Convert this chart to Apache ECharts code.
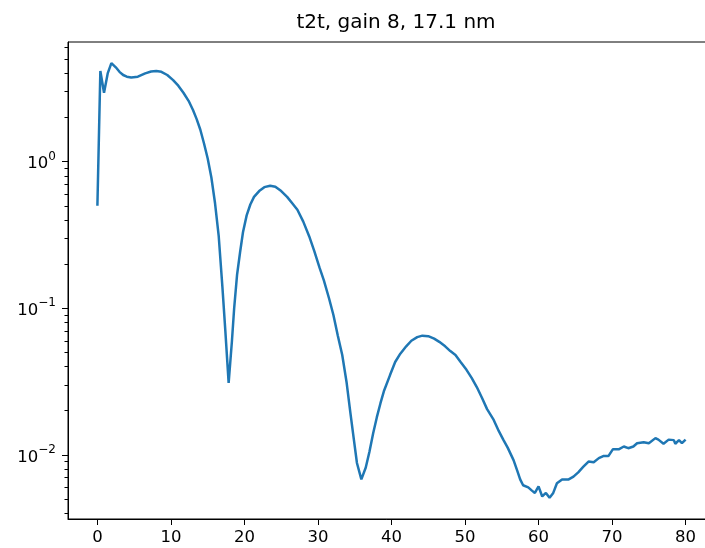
<!DOCTYPE html>
<html>
<head>
<meta charset="utf-8">
<title>t2t, gain 8, 17.1 nm</title>
<script src="https://cdn.jsdelivr.net/npm/echarts@6/dist/echarts.min.js"></script>
<style>
  html, body { margin: 0; padding: 0; background: #fff; }
  #chart { width: 705px; height: 548px; }
</style>
</head>
<body>
<div id="chart"></div>
<script>
// Reflectivity curve: angle (x) and signal (log y)
const angles = [
  0.0, 0.4, 0.9, 1.4, 1.9, 2.5, 3.0, 3.5, 4.0, 4.6,
  5.5, 6.5, 7.3, 8.0, 8.7, 9.5, 10.3, 11.0, 11.7, 12.4,
  13.0, 13.5, 14.0, 14.5, 15.0, 15.5, 16.0, 16.5, 17.0, 17.4,
  17.85, 18.3, 18.6, 19.0, 19.4, 19.8, 20.3, 20.8, 21.3, 22.0,
  22.7, 23.5, 24.2, 25.0, 25.8, 26.5, 27.2, 28.0, 28.8, 29.5,
  30.2, 30.8, 31.5, 32.1, 32.7, 33.3, 33.9, 34.4, 34.9, 35.3,
  35.9, 36.5, 37.0, 37.5, 38.0, 38.5, 39.0, 39.8, 40.5, 41.2,
  42.0, 42.7, 43.5, 44.2, 45.0, 45.8, 46.5, 47.3, 48.0, 48.7,
  49.4, 50.2, 50.9, 51.6, 52.3, 53.0, 53.9, 54.6, 55.2, 55.8,
  56.6, 57.1, 57.5, 57.9, 58.6, 59.1, 59.5, 60.0, 60.5, 61.0,
  61.5, 62.0, 62.5, 63.2, 64.1, 64.75, 65.4, 66.1, 66.8, 67.5,
  68.2, 68.8, 69.5, 70.1, 70.9, 71.6, 72.2, 72.9, 73.4, 74.3,
  75.0, 75.9, 76.3, 77.0, 77.7, 78.4, 78.6, 79.1, 79.5, 80.0
];
const signal = [
  0.50, 4.15, 2.95, 4.0, 4.7, 4.4, 4.1, 3.9, 3.8, 3.75,
  3.8, 4.0, 4.12, 4.15, 4.1, 3.9, 3.6, 3.3, 2.95, 2.6,
  2.25, 1.95, 1.65, 1.33, 1.05, 0.78, 0.52, 0.31, 0.14, 0.07,
  0.031, 0.06, 0.1, 0.17, 0.24, 0.33, 0.43, 0.51, 0.575, 0.63,
  0.67, 0.685, 0.675, 0.63, 0.575, 0.52, 0.47, 0.39, 0.31, 0.245,
  0.19, 0.155, 0.117, 0.09, 0.065, 0.048, 0.031, 0.0195, 0.0125, 0.0088,
  0.0068, 0.0082, 0.0105, 0.014, 0.018, 0.0225, 0.0275, 0.035, 0.043, 0.049,
  0.055, 0.060, 0.0635, 0.065, 0.0645, 0.062, 0.059, 0.055, 0.051, 0.048,
  0.043, 0.038, 0.0335, 0.029, 0.0245, 0.0205, 0.0173, 0.0145, 0.0127, 0.0112,
  0.0092, 0.0078, 0.0068, 0.0062, 0.0060, 0.0057, 0.0055, 0.0061, 0.0052, 0.0055,
  0.0051, 0.0055, 0.0064, 0.0068, 0.0068, 0.0071, 0.0076, 0.0083, 0.0090, 0.0089,
  0.0095, 0.0098, 0.0098, 0.0109, 0.0109, 0.0114, 0.0111, 0.0114, 0.0120, 0.0122,
  0.0120, 0.0130, 0.0127, 0.0119, 0.0127, 0.0126, 0.0119, 0.0126, 0.0120, 0.0127
];

// Tick positions
const xTicks = [0, 10, 20, 30, 40, 50, 60, 70, 80];
const yMajorTicks = [0.01, 0.1, 1];
const yMinorTicks = [
  0.004, 0.005, 0.006, 0.007, 0.008, 0.009,
  0.02, 0.03, 0.04, 0.05, 0.06, 0.07, 0.08, 0.09,
  0.2, 0.3, 0.4, 0.5, 0.6, 0.7, 0.8, 0.9,
  2, 3, 4, 5, 6
];

const FONT = 'DejaVu Sans';
const INK = '#000';
const Y_MIN = 0.00365, Y_MAX = 6.55;

function supText(v) {
  const e = Math.round(Math.log10(v));
  const s = (e < 0 ? '\u2212' : '') + Math.abs(e);
  return '{b|10}{s|' + s + '}';
}

const chart = echarts.init(document.getElementById('chart'), null, { renderer: 'canvas' });

chart.setOption({
  animation: false,
  backgroundColor: '#fff',
  title: {
    text: 't2t, gain 8, 17.1 nm',
    left: 391,
    top: 8,
    textAlign: 'center',
    textStyle: { fontFamily: FONT, fontSize: 20, fontWeight: 'normal', color: INK }
  },
  grid: {
    left: 68, top: 42, width: 647, height: 477,
    outerBoundsMode: 'none',
    show: true, borderColor: INK, borderWidth: 1, backgroundColor: 'transparent',
    containLabel: false
  },
  xAxis: {
    type: 'value',
    min: -4, max: 84,
    axisLine: { show: true, onZero: false, lineStyle: { color: INK, width: 1 } },
    axisTick: { show: true, length: 6, lineStyle: { color: INK, width: 1 }, customValues: xTicks },
    axisLabel: { fontFamily: FONT, fontSize: 16.5, color: INK, margin: 10, customValues: xTicks },
    splitLine: { show: false }
  },
  yAxis: [
    {
      type: 'log', logBase: 10,
      min: Y_MIN, max: Y_MAX,
      position: 'left',
      axisLine: { show: true, onZero: false, lineStyle: { color: INK, width: 1 } },
      axisTick: { show: true, length: 6, lineStyle: { color: INK, width: 1 }, customValues: yMajorTicks },
      axisLabel: {
        customValues: yMajorTicks,
        margin: 12,
        formatter: supText,
        rich: {
          b: { fontFamily: FONT, fontSize: 16.5, color: INK, lineHeight: 22, verticalAlign: 'bottom' },
          s: { fontFamily: FONT, fontSize: 12, color: INK, lineHeight: 22, verticalAlign: 'top' }
        }
      },
      splitLine: { show: false }
    },
    {
      type: 'log', logBase: 10,
      min: Y_MIN, max: Y_MAX,
      position: 'left',
      axisLine: { show: false, onZero: false },
      axisTick: { show: true, length: 3.5, lineStyle: { color: INK, width: 1 }, customValues: yMinorTicks },
      axisLabel: { show: false },
      splitLine: { show: false }
    }
  ],
  series: [{
    type: 'line',
    yAxisIndex: 0,
    data: angles.map((a, i) => [a, signal[i]]),
    showSymbol: false,
    symbol: 'none',
    lineStyle: { color: '#1f77b4', width: 2.5 },
    itemStyle: { color: '#1f77b4' },
    clip: true
  }]
});
</script>
</body>
</html>
